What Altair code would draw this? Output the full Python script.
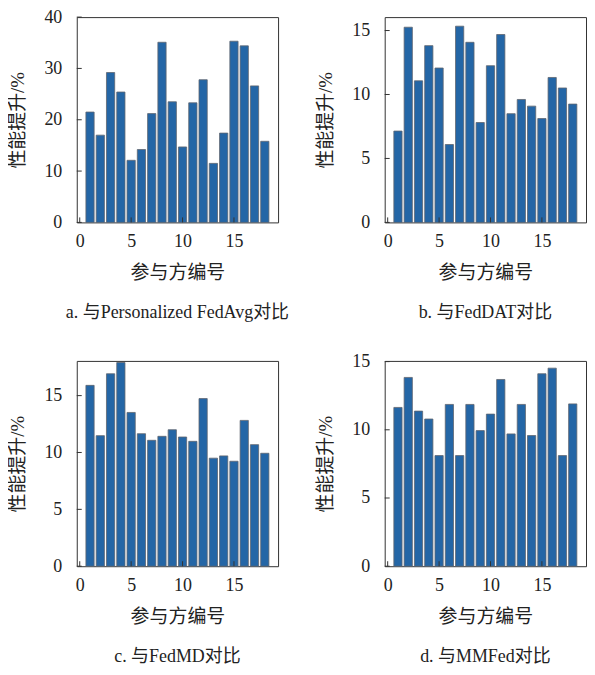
import altair as alt
import pandas as pd

participants = list(range(1, 19))

fedavg = [21.5, 17.0, 29.2, 25.4, 12.1, 14.2, 21.2, 35.1, 23.5, 14.7,
          23.3, 27.8, 11.5, 17.4, 35.3, 34.4, 26.6, 15.8]
feddat = [7.14, 15.26, 11.07, 13.82, 12.07, 6.09, 15.34, 14.08, 7.81, 12.25,
          14.69, 8.50, 9.61, 9.09, 8.12, 11.33, 10.51, 9.25]
fedmd = [15.9, 11.48, 16.92, 17.91, 13.52, 11.65, 11.07, 11.42, 12.0, 11.36,
         10.98, 14.74, 9.50, 9.70, 9.23, 12.82, 10.69, 9.93]
mmfed = [11.64, 13.84, 11.37, 10.79, 8.11, 11.86, 8.11, 11.86, 9.94, 11.15,
         13.69, 9.70, 11.86, 9.58, 14.11, 14.52, 8.11, 11.90]

captions = ["a. 与Personalized FedAvg对比", "b. 与FedDAT对比",
            "c. 与FedMD对比", "d. 与MMFed对比"]
y_max = [40, 16.05, 18.05, 15.05]
y_ticks = [[0, 10, 20, 30, 40], [0, 5, 10, 15], [0, 5, 10, 15], [0, 5, 10, 15]]
x_ticks = [0, 5, 10, 15]
x_domain = [-0.29, 19.29]

W, H = 202, 206
FONT = "Liberation Serif, Noto Sans CJK SC"
BAR_COLOR = "#2466a6"
EDGE = "#5f6670"


def panel(values, ymax, yt, caption):
    df = pd.DataFrame({"id": participants, "v": values})
    xs = alt.Scale(domain=x_domain, nice=False, zero=False)
    ys = alt.Scale(domain=[0, ymax], nice=False, zero=True)
    xaxis = alt.Axis(values=x_ticks, title="参与方编号", grid=False,
                     domain=False, ticks=False, labelPadding=10,
                     titlePadding=13, format="d")
    yaxis = alt.Axis(values=yt, title="性能提升/%", grid=False,
                     domain=False, ticks=False, labelPadding=15,
                     titlePadding=16, format="d")
    bars = alt.Chart(df).transform_calculate(
        x0="datum.id - 0.4", x1="datum.id + 0.4"
    ).mark_bar(color=BAR_COLOR, stroke=EDGE, strokeWidth=0.8).encode(
        x=alt.X("x0:Q", scale=xs, axis=xaxis),
        x2="x1:Q",
        y=alt.Y("v:Q", scale=ys, axis=yaxis),
        y2=alt.datum(0),
    )
    ytick = alt.Chart(pd.DataFrame({"v": yt})).mark_rule(
        color="#333", strokeWidth=1
    ).encode(y=alt.Y("v:Q", scale=ys, axis=yaxis),
             x=alt.value(0), x2=alt.value(5))
    xtick = alt.Chart(pd.DataFrame({"x0": x_ticks})).mark_rule(
        color="#333", strokeWidth=1
    ).encode(x=alt.X("x0:Q", scale=xs, axis=xaxis),
             y=alt.value(H), y2=alt.value(H - 5))
    return alt.layer(bars, ytick, xtick).properties(
        width=W, height=H,
        title=alt.TitleParams(caption, orient="bottom", offset=22,
                              font=FONT, fontSize=18, fontWeight="normal",
                              color="#222"),
    )


series = [fedavg, feddat, fedmd, mmfed]
panels = [panel(s, m, t, c) for s, m, t, c in zip(series, y_max, y_ticks, captions)]

chart = alt.concat(*panels, columns=2, bounds="flush",
                   spacing=alt.RowColnumber(row=139, column=107)).properties(
    padding={"left": 0, "top": -2, "right": 0, "bottom": 0}
).configure_view(stroke="#333", strokeWidth=1).configure_axis(
    labelFont=FONT, labelFontSize=18, labelColor="#222",
    titleFont=FONT, titleFontSize=19, titleFontWeight="normal", titleColor="#222",
)

chart.save("out.html", embed_options={"renderer": "svg", "actions": False})
